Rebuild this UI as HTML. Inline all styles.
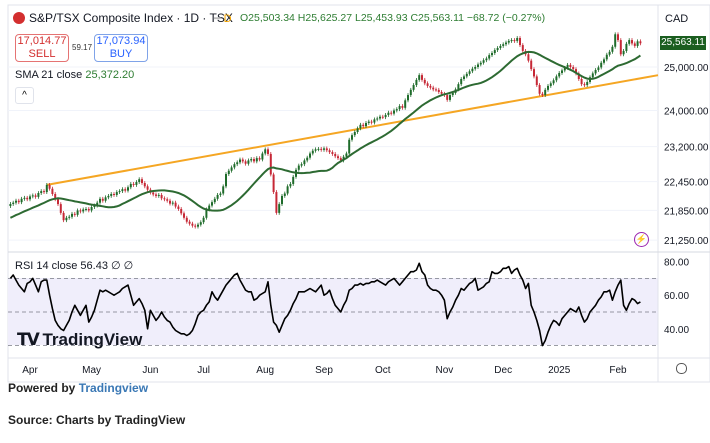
<!DOCTYPE html>
<html><head><meta charset="utf-8">
<style>
body{margin:0;width:710px;height:443px;background:#fff;font-family:"Liberation Sans",sans-serif;overflow:hidden;position:relative}
.t{position:absolute;white-space:nowrap}
</style></head>
<body>
<svg id="chart" width="710" height="443" style="position:absolute;left:0;top:0" font-family="Liberation Sans, sans-serif">
  <rect x="8" y="5" width="702" height="377" fill="#fff" stroke="#e0e3eb"/>
  <rect x="8" y="278" width="650" height="67" fill="#f0eefb"/>
  <line x1="658" y1="5" x2="658" y2="382" stroke="#e0e3eb"/>
  <line x1="8" y1="252" x2="710" y2="252" stroke="#d6d9e0"/>
  <line x1="8" y1="358" x2="710" y2="358" stroke="#e0e3eb"/>
  <g id="grid"></g>
  <g id="rsiguides"></g>
  <g id="trend"></g>
  <g id="candles"></g>
  <g id="sma"></g>
  <g id="rsi"></g>
  <g id="axes"></g>
</svg>

<div class="t" style="left:13px;top:12px;width:12px;height:12px;border-radius:6px;background:#d32f2f"></div>
<div class="t" style="left:29px;top:11px;font-size:12px;color:#131722">S&amp;P/TSX Composite Index · 1D · TSX</div>
<div class="t" style="left:214px;top:12px;font-size:11px;color:#f7a600"><span style="color:#bbb">━</span> D</div>
<div class="t" style="left:240px;top:12px;font-size:10.5px;color:#2e7d32">O25,503.34 H25,625.27 L25,453.93 C25,563.11 −68.72 (−0.27%)</div>
<div class="t" style="left:15px;top:34px;width:52px;height:26px;border:1px solid #e57373;border-radius:4px;text-align:center;font-size:11px;color:#d32f2f;line-height:13px">17,014.77<br>SELL</div>
<div class="t" style="left:72px;top:43px;font-size:8px;color:#333">59.17</div>
<div class="t" style="left:94px;top:34px;width:52px;height:26px;border:1px solid #7fa3e8;border-radius:4px;text-align:center;font-size:11px;color:#2962ff;line-height:13px">17,073.94<br>BUY</div>
<div class="t" style="left:15px;top:69px;font-size:11px;color:#131722">SMA 21 close <span style="color:#2e7d32">25,372.20</span></div>
<div class="t" style="left:15px;top:87px;width:17px;height:15px;border:1px solid #e0e3eb;border-radius:3px;text-align:center;font-size:10px;line-height:16px">^</div>
<div class="t" style="left:665px;top:13px;font-size:11px;color:#131722">CAD</div>
<div class="t" style="left:660px;top:36px;width:46px;height:14px;background:#1b5e20;color:#fff;font-size:10px;text-align:center;line-height:14px">25,563.11</div>
<div class="t" style="left:634px;top:232px;width:13px;height:13px;border:1px solid #9c27b0;border-radius:8px;color:#9c27b0;font-size:9px;text-align:center;line-height:13px">⚡</div>
<div class="t" style="left:15px;top:259px;font-size:11px;color:#131722">RSI 14 close <span>56.43</span> ∅ ∅</div>
<div class="t" style="left:17px;top:330px;font-size:17px;font-weight:bold;color:#131722"><span style="letter-spacing:-2px">𝗧𝗩</span> TradingView</div>
<div class="t" style="left:676px;top:363px;width:9px;height:9px;border:1px solid #555;border-radius:5px"></div>
<div class="t" style="left:8px;top:381px;font-size:12px;font-weight:bold;color:#222">Powered by <span style="color:#3a78b5">Tradingview</span></div>
<div class="t" style="left:8px;top:413px;font-size:12px;font-weight:bold;color:#222">Source: Charts by TradingView</div>

<script>
const preHistory=[21450,21480,21520,21500,21560,21590,21620,21600,21650,21700,21680,21720,21760,21740,21800,21830,21810,21870,21900,21940];
const closes=[21983,22010,22050,22020,22090,22110,22080,22140,22160,22130,22210,22250,22230,22380,
22300,22190,22080,21980,21800,21650,
21700,21720,21780,21760,21850,21830,21870,21880,21850,21920,21950,22010,22090,
22050,22120,22150,22190,22170,22230,22250,22290,22260,22330,22400,22380,22440,22500,
22420,22350,22280,22220,22180,22150,22170,22100,22080,22050,21990,22010,21930,21880,21790,21700,21620,21580,21540,21520,
21560,21610,21700,21870,21950,22020,22090,22170,22200,22350,
22610,22680,22750,22820,22860,22920,22880,22830,22900,22930,22880,22950,22920,23050,23140,23040,
22600,22230,21800,21980,22150,22200,22350,
22400,22550,22700,22790,22820,22900,22960,23050,23110,23140,23150,23130,23160,23120,23080,23040,22990,22950,22900,22980,23050,
23350,23450,23520,23600,23680,23650,23720,23750,23730,23800,23820,23860,23850,23900,23950,23930,24000,24030,24100,24060,24230,24350,24470,24580,24700,24810,
24700,24620,24560,24520,24480,24470,24420,24380,24350,24240,24350,
24400,24480,24600,24720,24780,24840,24900,24960,25000,25060,25100,25160,25200,25280,25330,25400,25450,25500,25540,25580,25620,25640,25620,25690,
25520,25380,25300,25150,24950,24780,24580,24380,24350,
24470,24560,24620,24690,24780,24860,24920,24980,25050,25000,24950,24850,24720,24600,24580,24650,
24760,24850,24930,24990,25100,25180,25290,25360,25480,25780,25640,25300,25380,25550,25640,25560,25500,25610,25563];
const rsiValues=[70,72,69,66,64,62,67,68,70,66,
62,68,69,69,60,52,45,42,40,39,
42,45,50,54,51,48,51,54,44,47,
51,57,63,62,63,62,61,60,61,62,
64,65,66,60,54,56,58,55,51,40,
51,48,45,47,50,47,45,44,41,39,
38,37,37,36,37,39,43,48,50,51,
54,56,62,59,57,60,63,66,68,70,
72,73,69,66,63,62,62,57,58,60,
61,62,68,54,44,42,38,42,46,48,
51,55,58,62,62,62,63,64,63,62,
64,66,60,61,63,58,54,52,50,54,
57,63,64,66,66,67,66,67,67,68,
68,69,68,67,66,68,69,70,68,66,
68,70,72,74,74,75,79,74,72,66,
64,63,63,62,60,57,46,50,53,57,
60,64,63,65,67,68,70,63,64,65,
67,68,74,73,73,74,76,76,77,73,
75,76,72,69,64,67,54,50,45,39,
30,33,38,42,45,44,42,46,48,50,
52,51,50,53,48,44,46,50,52,54,
57,59,62,62,63,57,62,66,69,54,
51,55,58,57,55,56];
const priceTicks=[25000,24000,23200,22450,21850,21250];
const priceTickLabels=["25,000.00","24,000.00","23,200.00","22,450.00","21,850.00","21,250.00"];
const rsiTicks=[80,60,40];
const rsiTickLabels=["80.00","60.00","40.00"];
const rsiGuides=[70,50,30];
const monthIdx=[7,29,50,69,91,112,133,155,176,196,217];
const monthLabels=["Apr","May","Jun","Jul","Aug","Sep","Oct","Nov","Dec","2025","Feb"];
const trendAnchors=[[13,22380],[190,24330]];

const NS="http://www.w3.org/2000/svg";
const xOf=i=>10.4+i*2.8;
const yOf=p=>67+1065*Math.log(25000/p);
const yR=v=>312-(v-50)*1.68;
function mk(tag,attrs,parent){const e=document.createElementNS(NS,tag);for(const k in attrs)e.setAttribute(k,attrs[k]);document.getElementById(parent).appendChild(e);return e;}

priceTicks.forEach((p,k)=>{
  const g=mk('line',{x1:8,x2:658,y1:yOf(p),y2:yOf(p),stroke:'#f0f3fa'},'grid');
  
  
  const t=mk('text',{x:664,y:yOf(p)+4,'font-size':10,fill:'#131722'},'axes');
  t.textContent=priceTickLabels[k];
  
  
});
rsiTicks.forEach((v,k)=>{
  const t=mk('text',{x:664,y:yR(v)+4,'font-size':10,fill:'#131722'},'axes');
  t.textContent=rsiTickLabels[k];
  
  
});
rsiGuides.forEach(v=>{
  const l=mk('line',{x1:8,x2:658,y1:yR(v),y2:yR(v),stroke:'#787b86','stroke-dasharray':'4,3','stroke-width':0.8},'rsiguides');
  
  
});
monthIdx.forEach((i,k)=>{
  const t=mk('text',{x:xOf(i),y:373,'font-size':10,fill:'#131722','text-anchor':'middle'},'axes');
  t.textContent=monthLabels[k];
  
  
});
{
  const [a,b]=trendAnchors;
  const la=Math.log(a[1]),lb=Math.log(b[1]);
  const slope=(lb-la)/(b[0]-a[0]);
  const iEnd=(658-10.4)/2.8;
  const pEnd=Math.exp(la+slope*(iEnd-a[0]));
  const l=mk('line',{x1:xOf(a[0]),y1:yOf(a[1]),x2:658,y2:yOf(pEnd),stroke:'#f5a623','stroke-width':2},'trend');
  
  
}
const all=preHistory.concat(closes);
closes.forEach((c,i)=>{
  const o=all[preHistory.length+i-1];
  const hi=Math.max(o,c)*1.0018, lo=Math.min(o,c)*0.9982;
  const col=c>=o?'#1e6b2a':'#c62836';
  const x=xOf(i);
  const w=mk('line',{x1:x,x2:x,y1:yOf(hi),y2:yOf(lo),stroke:col,'stroke-width':0.8},'candles');
  
  
  const top=yOf(Math.max(o,c)),bot=yOf(Math.min(o,c));
  const r=mk('rect',{x:x-1,y:top,width:2,height:Math.max(1,bot-top),fill:col},'candles');
  
  
});
{
  let d='';
  closes.forEach((c,i)=>{
    const j=preHistory.length+i;
    const s=all.slice(Math.max(0,j-20),j+1);
    const m=s.reduce((a,b)=>a+b,0)/s.length;
    d+=(i?'L':'M')+xOf(i).toFixed(1)+','+yOf(m).toFixed(1);
  });
  const p=mk('path',{d:d,fill:'none',stroke:'#2d6a32','stroke-width':2},'sma');
  
  
}
{
  let d='';
  rsiValues.forEach((v,i)=>{d+=(i?'L':'M')+xOf(i).toFixed(1)+','+yR(v).toFixed(1);});
  const p=mk('path',{d:d,fill:'none',stroke:'#000','stroke-width':1.6,'stroke-linejoin':'round'},'rsi');
  
  
}
</script>
</body></html>
